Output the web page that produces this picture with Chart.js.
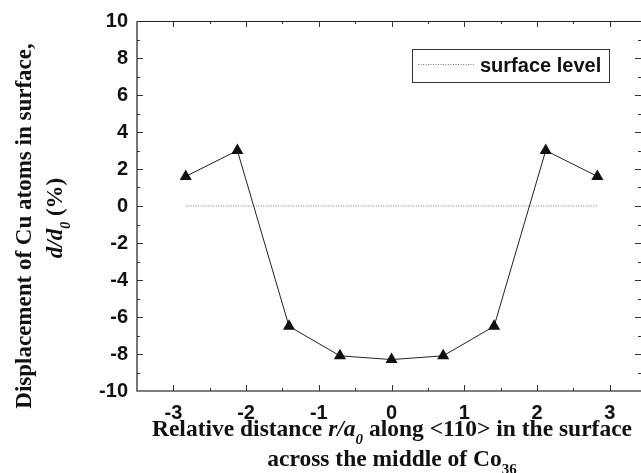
<!DOCTYPE html>
<html>
<head>
<meta charset="utf-8">
<script src="https://cdn.jsdelivr.net/npm/chart.js@4/dist/chart.umd.min.js"></script>
<style>
  html, body { margin: 0; padding: 0; background: #fff; }
  #wrap { width: 641px; height: 473px; }
</style>
</head>
<body>
<div id="wrap"><canvas id="chart" width="641" height="473"></canvas></div>
<script>
// data
const distances = [-2.83, -2.12, -1.41, -0.71, 0, 0.71, 1.41, 2.12, 2.83];
const displacement = [1.6, 3.0, -6.5, -8.1, -8.3, -8.1, -6.5, 3.0, 1.6];
const surfaceX = [-2.83, 2.83];
const surfaceY = [0, 0];
const xTicks = [-3, -2, -1, 0, 1, 2, 3];
const yTicks = [-10, -8, -6, -4, -2, 0, 2, 4, 6, 8, 10];

const SERIF = '"Liberation Serif", "Times New Roman", serif';
const SANS = '"Liberation Sans", Arial, sans-serif';

// draw a line of mixed-style text centred at (cx, y)
function richText(ctx, parts, cx, y, size) {
  const fontFor = p => (p.italic ? 'italic ' : '') + 'bold ' + (p.sub ? Math.round(size * 0.62) : size) + 'px ' + SERIF;
  let total = 0;
  parts.forEach(p => { ctx.font = fontFor(p); total += ctx.measureText(p.t).width; });
  let x = cx - total / 2;
  ctx.textAlign = 'left';
  ctx.textBaseline = 'alphabetic';
  parts.forEach(p => {
    ctx.font = fontFor(p);
    ctx.fillText(p.t, x, p.sub ? y + size * 0.36 : y);
    x += ctx.measureText(p.t).width;
  });
}

const decorations = {
  id: 'decorations',
  afterDraw(chart) {
    const { ctx, chartArea: a, scales } = chart;
    const xs = scales.x, ys = scales.y;
    ctx.save();

    // frame
    ctx.strokeStyle = '#222';
    ctx.lineWidth = 1;
    ctx.beginPath();
    ctx.moveTo(a.left, a.top + 0.5);
    ctx.lineTo(a.right, a.top + 0.5);
    ctx.stroke();
    ctx.strokeStyle = '#555';
    ctx.lineWidth = 1.6;
    ctx.beginPath();
    ctx.moveTo(a.left, a.top);
    ctx.lineTo(a.left, a.bottom);
    ctx.lineTo(a.right, a.bottom);
    ctx.stroke();

    // inward ticks on all four sides
    ctx.strokeStyle = '#333';
    ctx.lineWidth = 1;
    ctx.beginPath();
    for (let v = -3.5; v <= 3.5; v += 0.5) {
      const px = Math.round(xs.getPixelForValue(v)) + 0.5;
      if (px < a.left + 1 || px > a.right - 1) continue;
      const len = Number.isInteger(v) ? 6 : 3;
      ctx.moveTo(px, a.bottom); ctx.lineTo(px, a.bottom - len);
      ctx.moveTo(px, a.top); ctx.lineTo(px, a.top + len);
    }
    for (let v = -10; v <= 10; v += 1) {
      const py = Math.round(ys.getPixelForValue(v)) + 0.5;
      if (py < a.top + 1 || py > a.bottom - 1) continue;
      const len = v % 2 === 0 ? 6 : 3;
      ctx.moveTo(a.left, py); ctx.lineTo(a.left + len, py);
      ctx.moveTo(a.right, py); ctx.lineTo(a.right - len, py);
    }
    ctx.stroke();

    // legend box
    ctx.strokeStyle = '#333';
    ctx.lineWidth = 1;
    ctx.strokeRect(412.5, 49.5, 197, 33);
    ctx.strokeStyle = '#777';
    ctx.setLineDash([1, 1.5]);
    ctx.beginPath();
    ctx.moveTo(418, 64.5);
    ctx.lineTo(475, 64.5);
    ctx.stroke();
    ctx.setLineDash([]);
    ctx.fillStyle = '#111';
    ctx.font = 'bold 20px ' + SANS;
    ctx.textAlign = 'left';
    ctx.textBaseline = 'middle';
    ctx.fillText('surface level', 480, 66);

    // axis titles
    ctx.fillStyle = '#111';
    richText(ctx, [
      { t: 'Relative distance ' },
      { t: 'r/a', italic: true },
      { t: '0', italic: true, sub: true },
      { t: ' along <110> in the surface' }
    ], 392, 436, 23.5);
    richText(ctx, [
      { t: 'across the middle of Co' },
      { t: '36', sub: true }
    ], 392, 466, 23.5);

    ctx.translate(31, 226);
    ctx.rotate(-Math.PI / 2);
    richText(ctx, [{ t: 'Displacement of Cu atoms in surface,' }], 0, 0, 23);
    ctx.restore();
    ctx.save();
    ctx.fillStyle = '#111';
    ctx.translate(62, 218);
    ctx.rotate(-Math.PI / 2);
    richText(ctx, [
      { t: 'd/d', italic: true },
      { t: '0', italic: true, sub: true },
      { t: ' (%)' }
    ], 0, 0, 23);
    ctx.restore();
  }
};

new Chart(document.getElementById('chart'), {
  type: 'scatter',
  data: {
    datasets: [
      {
        label: 'Cu displacement',
        data: distances.map((x, i) => ({ x: x, y: displacement[i] })),
        showLine: true,
        borderColor: '#222',
        borderWidth: 1,
        pointStyle: 'triangle',
        pointRadius: 7,
        pointBackgroundColor: '#111',
        pointBorderColor: '#111',
        pointBorderWidth: 0
      },
      {
        label: 'surface level',
        data: surfaceX.map((x, i) => ({ x: x, y: surfaceY[i] })),
        showLine: true,
        borderColor: '#777',
        borderWidth: 1,
        borderDash: [1, 1.5],
        pointRadius: 0
      }
    ]
  },
  options: {
    responsive: false,
    animation: false,
    layout: { autoPadding: false, padding: { top: 21, right: 0, left: 0, bottom: 0 } },
    plugins: {
      legend: { display: false },
      tooltip: { enabled: false }
    },
    scales: {
      x: {
        type: 'linear',
        min: -3.5,
        max: 3.43,
        grid: { display: false, drawTicks: false },
        border: { display: false },
        afterBuildTicks: s => { s.ticks = xTicks.map(v => ({ value: v })); },
        afterFit: s => { s.height = 82; s.paddingLeft = 0; s.paddingRight = 0; },
        ticks: {
          padding: 10,
          maxRotation: 0,
          color: '#111',
          font: { family: SANS, size: 20, weight: 'bold' }
        }
      },
      y: {
        type: 'linear',
        min: -10,
        max: 10,
        grid: { display: false, drawTicks: false },
        border: { display: false },
        afterBuildTicks: s => { s.ticks = yTicks.map(v => ({ value: v })); },
        afterFit: s => { s.width = 137; s.paddingTop = 0; s.paddingBottom = 0; },
        ticks: {
          padding: 9,
          color: '#111',
          font: { family: SANS, size: 20, weight: 'bold' }
        }
      }
    }
  },
  plugins: [decorations]
});
</script>
</body>
</html>
